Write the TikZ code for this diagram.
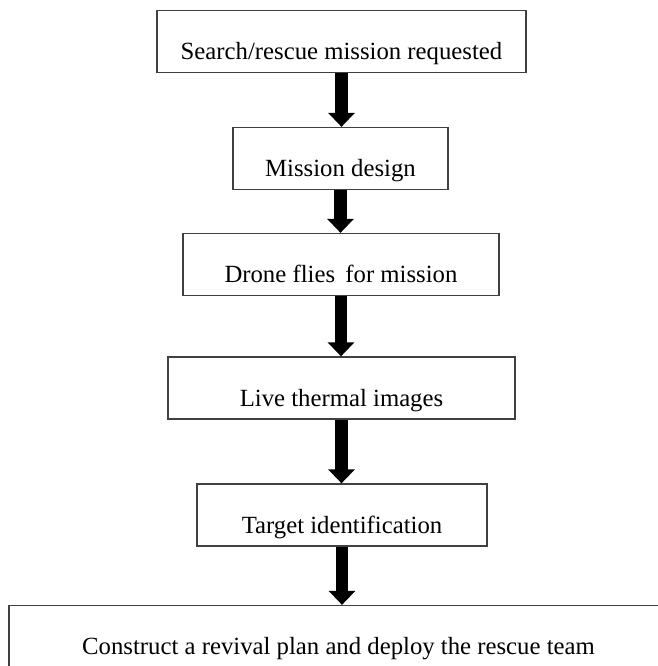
\documentclass[tikz,border=0pt]{standalone}
\usepackage{fontspec}
\setmainfont{Liberation Serif}
\usetikzlibrary{arrows.meta,positioning}
\tikzset{
    stepbox/.style={draw=black!75, line width=0.9pt, inner sep=0pt,
        text height=1.225cm, text depth=0.325cm,
        font=\fontsize{17.6}{20}\selectfont},
    flowarrow/.style={line width=9pt, -{Triangle[width=18.5pt, length=10pt]}}
}

\begin{document}
\begin{tikzpicture}
    \clip (0,0) rectangle (16.45,-16.65);
    \fill[white] (0,0) rectangle (16.45,-16.65);

    \node[stepbox, minimum width=9.225cm] (request) at (8.5375,-1.0375) {Search/rescue mission requested};
    \node[stepbox, minimum width=5.375cm] (design) at (8.5125,-3.9625) {Mission design};
    \node[stepbox, minimum width=7.9cm] (fly) at (8.525,-6.6125) {Drone flies\, for mission};
    \node[stepbox, minimum width=8.675cm] (thermal) at (8.5375,-9.7) {Live thermal images};
    \node[stepbox, minimum width=7.25cm] (target) at (8.55,-12.875) {Target identification};
    \node[stepbox, minimum width=16.475cm] (plan) at (8.4625,-15.9125) {Construct a revival plan and deploy the rescue team};

    \draw[flowarrow] (request.south) -- (request.south |- design.north);
    \draw[flowarrow] (design.south) -- (design.south |- fly.north);
    \draw[flowarrow] (fly.south) -- (fly.south |- thermal.north);
    \draw[flowarrow] (thermal.south) -- (thermal.south |- target.north);
    \draw[flowarrow] (target.south) -- (target.south |- plan.north);
\end{tikzpicture}
\end{document}
